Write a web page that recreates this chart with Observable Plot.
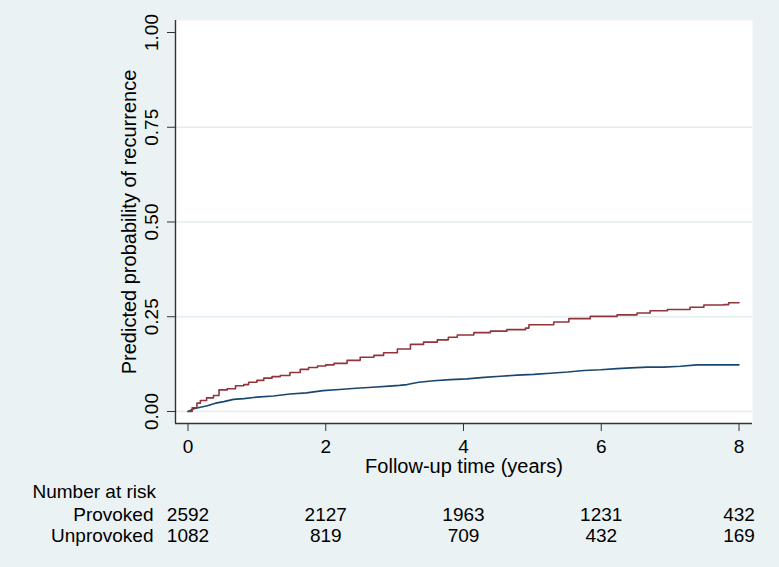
<!DOCTYPE html>
<html>
<head>
<meta charset="utf-8">
<script src="https://cdn.jsdelivr.net/npm/d3@7"></script>
<script src="https://cdn.jsdelivr.net/npm/@observablehq/plot@0.6"></script>
<style>
  html, body { margin: 0; padding: 0; background: #EAF2F3; }
</style>
</head>
<body>
<div id="chart"></div>
<script>
// Provoked (navy, lower curve)
const provokedT = [0, 0.085, 0.18, 0.28, 0.40, 0.52, 0.66, 0.81, 1.0, 1.24, 1.48, 1.72, 1.96, 2.2, 2.44, 2.68, 2.92, 3.07, 3.18, 3.35, 3.57, 3.81, 4.05, 4.30, 4.54, 4.78, 5.02, 5.26, 5.51, 5.75, 5.99, 6.23, 6.43, 6.67, 6.91, 7.15, 7.39, 8.0];
const provokedV = [0, 0.007, 0.011, 0.015, 0.022, 0.026, 0.032, 0.034, 0.038, 0.041, 0.046, 0.049, 0.055, 0.058, 0.0615, 0.064, 0.067, 0.069, 0.071, 0.077, 0.081, 0.084, 0.086, 0.090, 0.093, 0.096, 0.098, 0.101, 0.104, 0.108, 0.110, 0.113, 0.115, 0.117, 0.117, 0.1195, 0.123, 0.123];
// Unprovoked (maroon, upper curve)
const unprovokedT = [0, 0.06, 0.13, 0.18, 0.27, 0.37, 0.45, 0.57, 0.69, 0.81, 0.88, 1.0, 1.10, 1.22, 1.34, 1.48, 1.63, 1.75, 1.88, 2.0, 2.12, 2.31, 2.50, 2.70, 2.84, 3.04, 3.23, 3.42, 3.62, 3.78, 3.91, 4.15, 4.39, 4.63, 4.90, 4.95, 5.31, 5.53, 5.84, 6.18, 6.23, 6.52, 6.71, 6.96, 7.29, 7.49, 7.78, 7.85, 8.0];
const unprovokedV = [0, 0.010, 0.022, 0.029, 0.036, 0.042, 0.057, 0.060, 0.068, 0.071, 0.077, 0.082, 0.088, 0.092, 0.095, 0.103, 0.111, 0.116, 0.120, 0.123, 0.127, 0.135, 0.143, 0.148, 0.155, 0.165, 0.177, 0.183, 0.189, 0.196, 0.202, 0.208, 0.212, 0.216, 0.220, 0.229, 0.236, 0.245, 0.251, 0.251, 0.255, 0.260, 0.266, 0.269, 0.275, 0.281, 0.282, 0.287, 0.287];

const groups = ["Provoked", "Unprovoked"];
const groupColors = ["#1a476f", "#90353b"];

const xTicks = [0, 2, 4, 6, 8];
const yTicks = [0, 0.25, 0.5, 0.75, 1];
const gridTicks = [0, 0.25, 0.5, 0.75];

const riskTimes = [0, 2, 4, 6, 8];
const riskProvoked = [2592, 2127, 1963, 1231, 432];
const riskUnprovoked = [1082, 819, 709, 432, 169];

const xTitle = "Follow-up time (years)";
const yTitle = "Predicted probability of recurrence";
const riskTitle = "Number at risk";

const provokedData = provokedT.map((t, i) => ({t, v: provokedV[i], group: "Provoked"}));
const unprovokedData = unprovokedT.map((t, i) => ({t, v: unprovokedV[i], group: "Unprovoked"}));

const FS = 19;
const TFS = 20;
const axisColor = "#333";
const rowDy = {Provoked: 91, Unprovoked: 112.5};
const riskData = {Provoked: riskProvoked, Unprovoked: riskUnprovoked};

const riskMarks = groups.flatMap(g => [
  Plot.text([g], {frameAnchor: "bottom-left", dx: -22, dy: rowDy[g], textAnchor: "end", lineAnchor: "middle", fontSize: FS, fill: "black", text: d => d}),
  Plot.text(riskTimes.map((t, i) => ({t, n: riskData[g][i]})), {x: "t", text: d => String(d.n), frameAnchor: "bottom", dy: rowDy[g], textAnchor: "middle", lineAnchor: "middle", fontSize: FS, fill: "black"})
]);

const chart = Plot.plot({
  width: 779,
  height: 567,
  marginLeft: 175,
  marginRight: 27,
  marginTop: 20,
  marginBottom: 144,
  style: {background: "#EAF2F3", fontFamily: "'Liberation Sans', Arial, sans-serif", color: "black", overflow: "visible"},
  x: {domain: [-0.1815, 8.196], axis: null},
  y: {domain: [-0.0317, 1.0317], axis: null},
  color: {domain: groups, range: groupColors},
  marks: [
    Plot.frame({fill: "white", stroke: "none"}),
    Plot.ruleY(gridTicks, {stroke: "#E3ECEE", strokeWidth: 1.3}),
    Plot.ruleX([-0.1815], {stroke: axisColor, strokeWidth: 1.4}),
    Plot.ruleY([-0.0317], {stroke: axisColor, strokeWidth: 1.4}),
    Plot.axisY(yTicks, {tickSize: 8, tickFormat: () => "", label: null, stroke: axisColor}),
    Plot.text(yTicks, {y: d => d, text: d => d3.format(".2f")(d), frameAnchor: "left", dx: -24, rotate: -90, textAnchor: "middle", lineAnchor: "middle", fontSize: FS, fill: "black"}),
    Plot.axisX(xTicks, {tickSize: 8, tickPadding: 8, tickFormat: "d", label: null, fontSize: FS, stroke: axisColor, fill: "black"}),
    Plot.text([xTitle], {frameAnchor: "bottom", dy: 43, textAnchor: "middle", lineAnchor: "middle", fontSize: TFS, fill: "black"}),
    Plot.text([yTitle], {frameAnchor: "left", dx: -46, rotate: -90, textAnchor: "middle", lineAnchor: "middle", fontSize: TFS, fill: "black"}),
    Plot.line(provokedData, {x: "t", y: "v", stroke: "group", strokeWidth: 1.6, curve: "linear"}),
    Plot.line(unprovokedData, {x: "t", y: "v", stroke: "group", strokeWidth: 1.6, curve: "step-after"}),
    Plot.text([riskTitle], {frameAnchor: "bottom-left", dx: -143, dy: 68.5, textAnchor: "start", lineAnchor: "middle", fontSize: FS, fill: "black"}),
    ...riskMarks
  ]
});
document.getElementById("chart").appendChild(chart);
</script>
</body>
</html>
